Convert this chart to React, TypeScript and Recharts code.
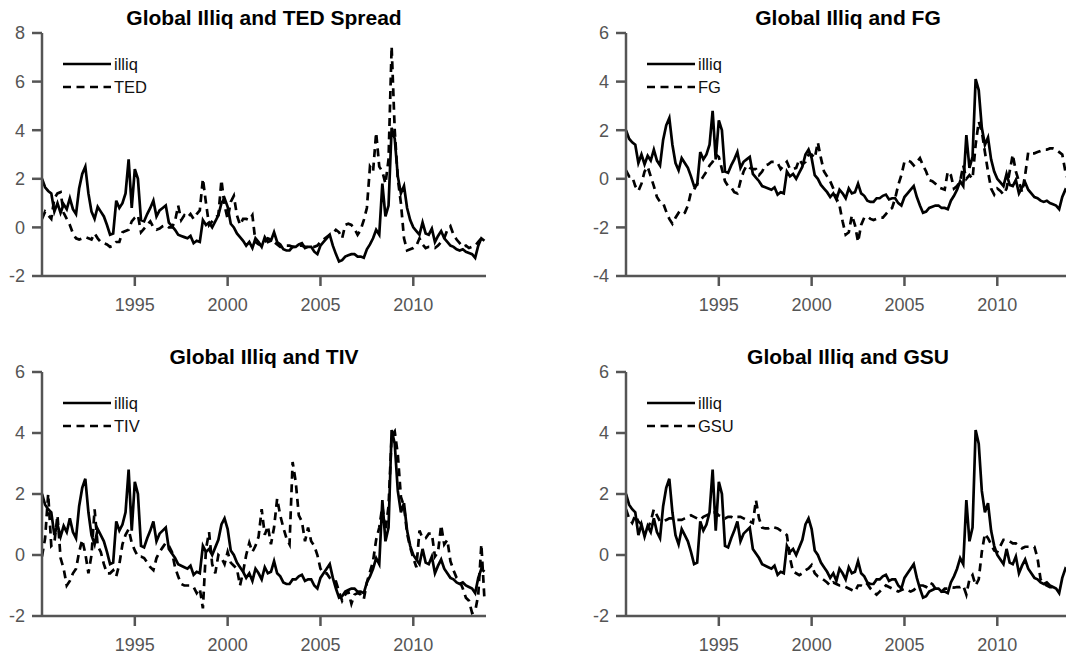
import { LineChart, Line, XAxis, YAxis, Legend } from 'recharts';

const FONT = '"Liberation Sans", Arial, Helvetica, sans-serif';
const AXIS_GREY = '#555555';
const DASH = '8 5.5';
const LINE_W = 2.7;

const PLOT_W = 444;
const Y_AXIS_W = 45;
const TOP_PAD = 10;
const X_AXIS_H = 42;

// two-month observations, Jan 1990 .. Nov 2013
const startYear = 1990;
const stepYears = 1 / 6;
const endYear = 1990 + 287 / 12;
const yearTicks = [1995, 2000, 2005, 2010];

const illiq = [
  2.0, 1.65, 1.5, 1.4, 0.65, 1.0,
  0.6, 0.95, 0.75, 1.2, 0.75, 0.55,
  1.6, 2.2, 2.5, 1.4, 0.65, 0.35,
  0.85, 0.65, 0.45, 0.1, -0.3, -0.25,
  1.1, 0.8, 1.0, 1.4, 2.8, 0.8,
  2.4, 2.0, 0.3, 0.25, 0.55, 0.8,
  1.1, 0.45, 0.7, 0.8, 0.9, 0.2,
  0.05, -0.1, -0.3, -0.35, -0.4, -0.45,
  -0.35, -0.65, -0.55, -0.6, 0.3, 0.1,
  0.2, 0.0, 0.25, 0.5, 1.0, 1.2,
  0.85, 0.15, 0.0, -0.25, -0.4, -0.55,
  -0.75, -0.6, -0.85, -0.45, -0.6, -0.8,
  -0.4, -0.6, -0.55, -0.2, -0.6, -0.7,
  -0.9, -0.95, -0.95, -0.8, -0.8, -0.7,
  -0.65, -0.85, -0.8, -0.8, -1.0, -1.1,
  -0.75, -0.6, -0.45, -0.3, -0.75, -1.1,
  -1.4, -1.35, -1.2, -1.15, -1.1, -1.1,
  -1.2, -1.2, -1.25, -0.9, -0.7, -0.45,
  -0.1, -0.3, 1.8, 0.45, 0.9, 4.1,
  3.65, 2.1, 1.4, 1.7, 0.8, 0.3,
  0.0, -0.15, -0.3, 0.2, -0.25, -0.3,
  -0.05, -0.6, -0.35, -0.15, -0.45, -0.6,
  -0.75, -0.8, -0.9, -0.95, -0.9, -1.0,
  -1.05, -1.1, -1.25, -0.75, -0.45, -0.55,
];

const ted = [
  0.35, 0.65, 0.5, 0.35, 1.2, 1.4,
  1.45, 0.6, 0.35, 0.1, -0.25, -0.45,
  -0.5, -0.45, -0.4, -0.45, -0.5, -0.25,
  -0.45, -0.6, -0.65, -0.7, -0.8, -0.75,
  -0.6, -0.6, -0.2, -0.15, -0.1, 0.25,
  0.4, 0.5, -0.2, -0.05, 0.1, 0.25,
  0.0, -0.1, -0.05, 0.05, 0.1, 0.0,
  0.0, 0.25, 0.9, 0.3, 0.5, 0.4,
  0.55, 0.35, 0.55, 0.7, 2.0, 1.0,
  0.1, 0.25, 0.4, 0.5, 1.95, 0.9,
  0.35, 1.05, 1.3, 0.5, 0.1, 0.35,
  0.35, 0.3, 0.5, -0.6, -0.7, -0.75,
  -0.6, -0.45, -0.5, -0.6, -0.7, -0.8,
  -0.8, -0.75, -0.75, -0.8, -0.8, -0.75,
  -0.75, -0.8, -0.8, -0.8, -0.8, -0.75,
  -0.6, -0.5, -0.4, -0.3, -0.25, -0.1,
  -0.2, -0.45, 0.1, 0.15, 0.1, -0.05,
  -0.3, -0.1, 0.3, 0.8, 2.5, 2.3,
  3.9, 2.5, 2.3, 1.8, 2.8, 7.45,
  4.0, 2.0, 1.0, -0.45, -0.95, -0.9,
  -0.85, -0.75, -0.45, -0.7, -0.85, -0.8,
  -0.8, -0.85, -0.75, -0.6, -0.45, -0.1,
  0.05, -0.3, -0.5, -0.65, -0.8, -0.75,
  -0.85, -0.8, -0.75, -0.6, -0.45, -0.6,
];

const fg = [
  0.35, 0.1, 0.1, -0.3, -0.5, -0.2,
  0.3, 0.5, 0.1, -0.3, -0.75, -0.95,
  -1.0, -1.35, -1.65, -1.85, -1.6, -1.4,
  -1.5, -1.4, -1.1, -0.55, -0.45, -0.2,
  -0.1, 0.1, 0.3, 0.55, 0.7, 1.0,
  0.9, 0.4, -0.1, -0.3, -0.35, -0.55,
  -0.6, -0.1, 0.3, 0.55, 0.45, 0.4,
  0.4, 0.15, 0.3, 0.55, 0.6, 0.7,
  0.7, 0.65, 0.4, 0.55, 0.7, 0.4,
  0.4, 0.45, 0.8, 0.6, 0.7, 1.0,
  1.0, 0.85, 1.5, 0.85, 0.3, 0.1,
  -0.1, -0.4, -0.8, -1.1, -1.75, -2.3,
  -2.2, -1.5, -1.9, -2.6, -1.9, -1.6,
  -1.55, -1.65, -1.7, -1.65, -1.6, -1.6,
  -1.45, -1.3, -1.2, -0.8, -0.25, 0.15,
  0.7, 0.75, 0.7, 0.55, 0.7, 0.85,
  0.55, 0.3, -0.05, -0.1, -0.2, -0.35,
  -0.4, -0.45, 0.3, 0.15, -0.4, -0.3,
  -0.1, 0.55, 0.0, 0.15, 0.0, 1.4,
  2.35, 1.95, 1.1, 0.3, -0.4, -0.65,
  -0.4, -0.5, -0.65, -0.4, 0.3, 1.0,
  0.3, -0.1, -0.55, 0.15, 1.1, 1.05,
  1.05, 1.1, 1.15, 1.2, 1.2, 1.25,
  1.25, 1.2, 1.1, 1.0, 0.3, -0.1,
];

const tiv = [
  -0.05, 0.55, 2.0, 0.3, 0.4, 1.3,
  -0.1, -0.45, -1.0, -0.85, -0.6, -0.45,
  0.1, 0.5, 0.05, -0.6, 0.0, 1.5,
  0.3, 0.1, -0.3, -0.6, -0.6, -0.5,
  -0.7, -0.3, 0.35, 0.66, 0.85, 0.4,
  0.15, -0.05, -0.05, -0.1, -0.25, -0.4,
  -0.5, -0.1, 0.1, 0.25, 0.4, 0.3,
  0.1, -0.4, -0.7, -0.95, -1.0, -1.0,
  -1.0, -1.05, -1.25, -1.1, -1.75, 0.2,
  0.75, -0.3, -0.6, 0.0, -0.1, -0.3,
  0.1, -0.25, -0.35, -0.45, -1.0, -0.55,
  0.0, 0.4, 0.1, 0.3, 0.6, 1.5,
  0.66, 0.95, 0.35, 0.9, 1.85, 1.3,
  0.9, 0.55, 0.35, 3.05, 2.4, 1.3,
  1.1, 0.45, 0.9, 0.45, 0.3, 0.0,
  -0.45, -0.6, -0.6, -0.75, -0.85, -0.87,
  -1.2, -1.5, -1.3, -1.2, -1.6, -1.3,
  -1.25, -1.3, -1.45, -0.9, -0.55, -0.2,
  0.5, 0.9, 1.6, 0.8, 1.6, 3.9,
  4.05, 3.3, 1.9, 1.6, 0.7, 0.25,
  -0.1, -0.4, 0.8, 0.55, 0.55, 0.7,
  0.7, -0.05, 0.1, 0.98, 0.35, 0.5,
  -0.2, -0.5, -0.75, -0.85, -1.1, -1.4,
  -1.5, -1.9, -1.85, -1.3, 0.35, -1.45,
];

const gsu = [
  1.5, 1.2, 1.05, 1.3, 1.1, 1.0,
  0.9, 0.87, 1.1, 1.5, 1.3, 1.1,
  1.1, 1.15, 1.2, 1.2, 1.15, 1.15,
  1.15, 1.2, 1.25, 1.3, 1.25, 1.2,
  1.15, 1.25, 1.3, 1.35, 1.4, 1.4,
  1.3, 1.25, 1.2, 1.25, 1.25, 1.2,
  1.25, 1.25, 1.2, 1.15, 1.1, 1.05,
  1.8, 1.2, 0.9, 0.87, 0.87, 0.93,
  0.9, 0.87, 0.8, 0.75, 0.65, -0.1,
  -0.55, -0.6, -0.66, -0.6, -0.5, -0.44,
  -0.33, -0.6, -0.7, -0.75, -0.82, -0.9,
  -1.0, -0.9, -0.95, -1.0, -1.0, -1.05,
  -1.1, -1.15, -1.2, -1.0, -1.0, -1.05,
  -0.95, -1.1, -1.2, -1.3, -1.2, -1.1,
  -1.0, -1.05, -1.1, -1.15, -1.2, -1.15,
  -1.1, -1.15, -1.2, -1.15, -1.05, -1.0,
  -1.0, -1.05, -0.9, -0.95, -1.1, -1.15,
  -1.2, -1.1, -1.1, -1.05, -1.07, -1.05,
  -1.05, -1.0, -1.3, -0.8, -0.66, -1.0,
  -0.8, 0.1, 0.7, 0.55, 0.35, 0.15,
  0.1, 0.3, 0.5, 0.5, 0.45, 0.38,
  0.38, 0.3, 0.22, 0.27, 0.27, 0.27,
  0.27, -0.1, -0.8, -0.95, -1.0, -1.05,
  -1.05, -1.1, null, null, null, null,
];

const panels = [
  { title: 'Global Illiq and TED Spread', name: 'TED', values: ted, yDomain: [-2, 8], yTicks: [-2, 0, 2, 4, 6, 8], left: 42, top: 33, height: 243 },
  { title: 'Global Illiq and FG', name: 'FG', values: fg, yDomain: [-4, 6], yTicks: [-4, -2, 0, 2, 4, 6], left: 626, top: 33, height: 243 },
  { title: 'Global Illiq and TIV', name: 'TIV', values: tiv, yDomain: [-2, 6], yTicks: [-2, 0, 2, 4, 6], left: 42, top: 372, height: 244 },
  { title: 'Global Illiq and GSU', name: 'GSU', values: gsu, yDomain: [-2, 6], yTicks: [-2, 0, 2, 4, 6], left: 626, top: 372, height: 244 },
];

function LegendBox({ name }: { name: string }) {
  const textProps = { x: 51, dominantBaseline: 'central', fontFamily: FONT, fontSize: 16.5, fill: '#111' } as const;
  return (
    <svg width={110} height={46} style={{ display: 'block' }}>
      <line x1={0} x2={48} y1={11} y2={11} stroke="#000" strokeWidth={LINE_W} />
      <text y={11} {...textProps}>illiq</text>
      <line x1={0} x2={48} y1={34} y2={34} stroke="#000" strokeWidth={LINE_W} strokeDasharray={DASH} />
      <text y={34} {...textProps}>{name}</text>
    </svg>
  );
}

function Panel({ p }: { p: (typeof panels)[number] }) {
  const rows = illiq.map((v, i) => ({ t: startYear + i * stepYears, illiq: v, other: p.values[i] }));
  const axisStroke = { stroke: AXIS_GREY, strokeWidth: 2.5 };
  const tickFont = { fill: AXIS_GREY, fontSize: 18, fontFamily: FONT };

  return (
    <>
      <svg width={PLOT_W} height={32} style={{ position: 'absolute', left: p.left, top: p.top - 32 }}>
        <text x={PLOT_W / 2} y={24} textAnchor="middle" fontFamily={FONT} fontSize={21} fontWeight="bold" fill="#000">
          {p.title}
        </text>
      </svg>
      <div style={{ position: 'absolute', left: p.left - Y_AXIS_W, top: p.top - TOP_PAD }}>
        <LineChart
          width={Y_AXIS_W + PLOT_W + 6}
          height={TOP_PAD + p.height + X_AXIS_H}
          data={rows}
          margin={{ top: TOP_PAD, right: 6, bottom: 0, left: 0 }}
        >
          <XAxis
            type="number"
            dataKey="t"
            domain={[startYear, endYear]}
            ticks={yearTicks}
            interval={0}
            allowDataOverflow
            height={X_AXIS_H}
            tickSize={10}
            tickMargin={12}
            axisLine={axisStroke}
            tickLine={axisStroke}
            tick={tickFont}
          />
          <YAxis
            type="number"
            domain={p.yDomain}
            ticks={p.yTicks}
            interval={0}
            allowDataOverflow
            width={Y_AXIS_W}
            tickSize={10}
            tickMargin={7}
            axisLine={axisStroke}
            tickLine={axisStroke}
            tick={tickFont}
          />
          <Legend
            layout="horizontal"
            verticalAlign="middle"
            align="center"
            content={() => <LegendBox name={p.name} />}
            wrapperStyle={{ position: 'absolute', left: Y_AXIS_W + 21, top: TOP_PAD + 20, width: 110, height: 46 }}
          />
          <Line
            type="linear"
            dataKey="illiq"
            name="illiq"
            stroke="#000"
            strokeWidth={LINE_W}
            dot={false}
            activeDot={false}
            isAnimationActive={false}
          />
          <Line
            type="linear"
            dataKey="other"
            name={p.name}
            stroke="#000"
            strokeWidth={LINE_W}
            strokeDasharray={DASH}
            dot={false}
            activeDot={false}
            isAnimationActive={false}
          />
        </LineChart>
      </div>
    </>
  );
}

export default function App() {
  return (
    <div
      style={{
        position: 'absolute',
        left: 0,
        top: 0,
        width: 1066,
        height: 658,
        overflow: 'hidden',
        background: '#fff',
        fontFamily: FONT,
      }}
    >
      {panels.map((p) => (
        <Panel key={p.name} p={p} />
      ))}
    </div>
  );
}
